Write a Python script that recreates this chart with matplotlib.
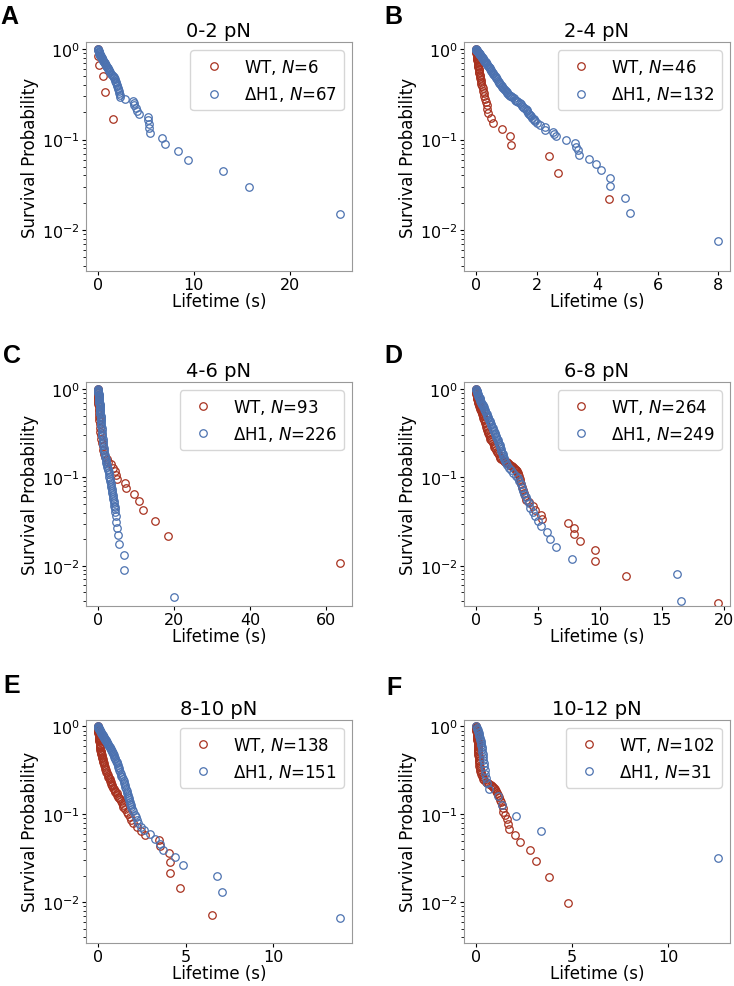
import numpy as np
import matplotlib.pyplot as plt
from matplotlib.ticker import MultipleLocator

# panel text
letters = ["A", "B", "C", "D", "E", "F"]
titles = ["0-2 pN", "2-4 pN", "4-6 pN", "6-8 pN", "8-10 pN", "10-12 pN"]
n_wt = [6, 46, 93, 264, 138, 102]
n_dh1 = [67, 132, 226, 249, 151, 31]
x_step = [10, 2, 20, 5, 5, 5]

# (lifetime s, survival probability)
wt_A = [(0.0, 1.0), (0.0, 0.833), (0.1, 0.667), (0.55, 0.5), (0.78, 0.333), (1.55, 0.167)]
dh1_A = [(0.0, 1.0), (0.02, 0.985), (0.04, 0.97), (0.06, 0.955), (0.08, 0.94), (0.1, 0.925),
         (0.12, 0.91), (0.15, 0.895), (0.18, 0.88), (0.21, 0.866), (0.25, 0.85), (0.29, 0.836),
         (0.33, 0.82), (0.37, 0.806), (0.41, 0.79), (0.45, 0.776), (0.5, 0.76), (0.55, 0.746),
         (0.6, 0.73), (0.65, 0.716), (0.7, 0.70), (0.75, 0.687), (0.8, 0.672), (0.85, 0.657),
         (0.9, 0.642), (0.95, 0.627), (1.0, 0.612), (1.05, 0.597), (1.1, 0.582), (1.2, 0.567),
         (1.3, 0.552), (1.38, 0.537), (1.45, 0.522), (1.55, 0.507), (1.62, 0.493), (1.68, 0.478),
         (1.75, 0.463), (1.82, 0.448), (1.88, 0.433), (1.93, 0.418), (1.98, 0.403), (2.02, 0.388),
         (2.07, 0.373), (2.1, 0.358), (2.14, 0.343), (2.18, 0.328), (2.25, 0.313), (2.34, 0.299),
         (2.86, 0.284), (3.66, 0.269), (3.72, 0.254), (3.8, 0.239), (3.96, 0.224), (4.07, 0.209),
         (4.3, 0.194), (5.2, 0.179), (5.25, 0.164), (5.3, 0.149), (5.35, 0.134), (5.45, 0.119),
         (6.69, 0.104), (7.03, 0.0896), (8.38, 0.0746), (9.37, 0.0597), (13.0, 0.0448),
         (15.7, 0.0299), (25.2, 0.0149)]

wt_B = [(0.0, 1.0), (0.0, 0.978), (0.005, 0.957), (0.01, 0.935), (0.015, 0.913), (0.02, 0.891),
        (0.025, 0.870), (0.03, 0.848), (0.035, 0.826), (0.04, 0.804), (0.045, 0.783), (0.05, 0.761),
        (0.055, 0.739), (0.06, 0.717), (0.065, 0.696), (0.07, 0.674), (0.075, 0.652), (0.08, 0.630),
        (0.085, 0.609), (0.09, 0.587), (0.1, 0.565), (0.11, 0.543), (0.12, 0.522), (0.13, 0.5),
        (0.14, 0.478), (0.15, 0.457), (0.16, 0.435), (0.18, 0.413), (0.2, 0.391), (0.22, 0.370),
        (0.24, 0.348), (0.26, 0.326), (0.28, 0.304), (0.3, 0.283), (0.32, 0.261), (0.35, 0.239),
        (0.37, 0.217), (0.4, 0.196), (0.48, 0.174), (0.56, 0.152), (0.86, 0.130), (1.13, 0.109),
        (1.155, 0.087), (2.4, 0.065), (2.7, 0.043), (4.38, 0.0217)]
dh1_B = [(0.0, 1.0), (0.005, 0.992), (0.01, 0.985), (0.015, 0.977), (0.02, 0.97), (0.03, 0.962),
         (0.04, 0.955), (0.05, 0.947), (0.06, 0.94), (0.07, 0.93), (0.08, 0.92), (0.09, 0.91),
         (0.10, 0.90), (0.115, 0.887), (0.13, 0.875), (0.145, 0.862), (0.16, 0.85), (0.175, 0.835),
         (0.19, 0.82), (0.205, 0.805), (0.22, 0.79), (0.24, 0.775), (0.26, 0.76), (0.28, 0.745),
         (0.30, 0.73), (0.32, 0.715), (0.34, 0.70), (0.36, 0.685), (0.38, 0.67), (0.40, 0.655),
         (0.42, 0.64), (0.44, 0.627), (0.46, 0.615), (0.475, 0.602), (0.49, 0.59), (0.51, 0.575),
         (0.53, 0.56), (0.55, 0.545), (0.57, 0.53), (0.595, 0.515), (0.62, 0.50), (0.645, 0.487),
         (0.67, 0.475), (0.695, 0.462), (0.72, 0.45), (0.745, 0.437), (0.77, 0.425), (0.795, 0.412),
         (0.82, 0.40), (0.845, 0.39), (0.87, 0.38), (0.895, 0.37), (0.92, 0.36), (0.95, 0.352),
         (0.98, 0.345), (1.01, 0.337), (1.04, 0.33), (1.07, 0.322), (1.10, 0.315), (1.13, 0.307),
         (1.16, 0.30), (1.2, 0.292), (1.24, 0.285), (1.28, 0.277), (1.32, 0.27), (1.36, 0.265),
         (1.40, 0.26), (1.44, 0.252), (1.48, 0.245), (1.52, 0.237), (1.56, 0.23), (1.6, 0.225),
         (1.64, 0.22), (1.67, 0.212), (1.70, 0.205), (1.73, 0.197), (1.76, 0.19), (1.79, 0.185),
         (1.82, 0.18), (1.86, 0.175), (1.90, 0.17), (1.93, 0.165), (1.96, 0.16), (2.03, 0.152),
         (2.10, 0.144), (2.27, 0.136), (2.28, 0.127), (2.54, 0.122), (2.56, 0.114), (2.64, 0.108),
         (2.96, 0.0985), (3.28, 0.091), (3.31, 0.083), (3.36, 0.0758), (3.41, 0.068), (3.73, 0.0606),
         (3.95, 0.053), (4.14, 0.0455), (4.43, 0.0379), (4.43, 0.0303), (4.91, 0.0227),
         (5.09, 0.0152), (7.98, 0.0076)]

wt_C = [(0.0, 1.0), (0.0, 0.97), (0.02, 0.935), (0.03, 0.90), (0.04, 0.86), (0.05, 0.82),
        (0.06, 0.785), (0.08, 0.75), (0.1, 0.71), (0.12, 0.67), (0.15, 0.635), (0.18, 0.60),
        (0.21, 0.56), (0.25, 0.52), (0.3, 0.48), (0.35, 0.44), (0.42, 0.40), (0.5, 0.365),
        (0.6, 0.33), (0.7, 0.30), (0.85, 0.27), (1.0, 0.247), (1.2, 0.226), (1.4, 0.204),
        (1.6, 0.183), (1.9, 0.172), (2.3, 0.161), (2.7, 0.150), (3.3, 0.140), (4.0, 0.129),
        (4.42, 0.118), (4.86, 0.1075), (5.1, 0.0968), (7.0, 0.086), (7.45, 0.0753), (9.35, 0.0645),
        (10.75, 0.0538), (11.95, 0.043), (15.0, 0.0323), (18.3, 0.0215), (63.5, 0.0108)]
dh1_C = [(0.0, 1.0), (0.02, 0.98), (0.05, 0.96), (0.07, 0.94), (0.1, 0.92), (0.12, 0.90),
         (0.15, 0.88), (0.17, 0.86), (0.2, 0.84), (0.22, 0.82), (0.25, 0.80), (0.27, 0.78),
         (0.3, 0.76), (0.32, 0.74), (0.35, 0.72), (0.38, 0.70), (0.42, 0.68), (0.46, 0.66),
         (0.5, 0.64), (0.52, 0.62), (0.55, 0.60), (0.57, 0.58), (0.6, 0.56), (0.62, 0.54),
         (0.65, 0.52), (0.68, 0.50), (0.72, 0.48), (0.76, 0.46), (0.8, 0.44), (0.84, 0.42),
         (0.88, 0.40), (0.91, 0.38), (0.95, 0.36), (1.0, 0.34), (1.05, 0.32), (1.1, 0.305),
         (1.15, 0.29), (1.2, 0.275), (1.25, 0.26), (1.32, 0.245), (1.4, 0.23), (1.47, 0.217),
         (1.55, 0.205), (1.65, 0.192), (1.75, 0.18), (1.87, 0.17), (2.0, 0.16), (2.1, 0.152),
         (2.2, 0.145), (2.32, 0.137), (2.45, 0.13), (2.57, 0.125), (2.7, 0.12), (2.8, 0.114),
         (2.9, 0.108), (3.0, 0.102), (3.1, 0.097), (3.2, 0.092), (3.3, 0.087), (3.4, 0.082),
         (3.5, 0.078), (3.6, 0.074), (3.7, 0.07), (3.78, 0.066), (3.85, 0.063), (3.92, 0.06),
         (4.0, 0.057), (4.1, 0.054), (4.2, 0.051), (4.3, 0.048), (4.4, 0.046), (4.5, 0.0435),
         (4.6, 0.041), (4.7, 0.0367), (4.78, 0.031), (5.04, 0.0265), (5.2, 0.0221),
         (5.45, 0.0177), (6.75, 0.0133), (6.94, 0.00885), (20.0, 0.00442)]

wt_D = [(0.0, 1.0), (0.0, 0.98), (0.01, 0.96), (0.015, 0.94), (0.02, 0.92), (0.03, 0.90),
        (0.04, 0.88), (0.05, 0.86), (0.06, 0.84), (0.07, 0.82), (0.08, 0.80), (0.095, 0.785),
        (0.11, 0.77), (0.13, 0.75), (0.15, 0.73), (0.175, 0.71), (0.2, 0.69), (0.225, 0.67),
        (0.25, 0.65), (0.275, 0.635), (0.3, 0.62), (0.325, 0.607), (0.35, 0.595), (0.385, 0.577),
        (0.42, 0.56), (0.46, 0.54), (0.5, 0.52), (0.53, 0.505), (0.56, 0.49), (0.59, 0.475),
        (0.62, 0.46), (0.66, 0.443), (0.7, 0.425), (0.74, 0.407), (0.78, 0.39), (0.83, 0.373),
        (0.88, 0.356), (0.92, 0.343), (0.97, 0.33), (1.01, 0.315), (1.06, 0.30), (1.11, 0.287),
        (1.16, 0.275), (1.22, 0.265), (1.28, 0.255), (1.35, 0.243), (1.42, 0.232), (1.48, 0.222),
        (1.55, 0.212), (1.62, 0.203), (1.7, 0.195), (1.76, 0.187), (1.83, 0.18), (1.9, 0.172),
        (1.97, 0.165), (2.06, 0.161), (2.15, 0.158), (2.26, 0.154), (2.37, 0.151), (2.47, 0.148),
        (2.57, 0.145), (2.68, 0.142), (2.78, 0.139), (2.85, 0.136), (2.92, 0.133), (2.98, 0.13),
        (3.05, 0.127), (3.12, 0.125), (3.2, 0.122), (3.26, 0.12), (3.31, 0.117), (3.36, 0.113),
        (3.4, 0.11), (3.45, 0.104), (3.52, 0.097), (3.59, 0.09), (3.65, 0.084), (3.72, 0.078),
        (3.79, 0.072), (3.86, 0.066), (3.93, 0.061), (4.0, 0.056), (4.27, 0.052), (4.6, 0.047),
        (4.79, 0.0432), (5.25, 0.0379), (5.33, 0.0341), (7.4, 0.0303), (7.95, 0.0265),
        (7.95, 0.0227), (8.38, 0.0189), (9.57, 0.0152), (9.6, 0.0114), (12.1, 0.0076),
        (19.52, 0.0038)]
dh1_D = [(0.0, 1.0), (0.02, 0.98), (0.05, 0.96), (0.07, 0.94), (0.1, 0.92), (0.12, 0.90),
         (0.15, 0.88), (0.17, 0.86), (0.2, 0.84), (0.23, 0.82), (0.27, 0.80), (0.3, 0.78),
         (0.33, 0.76), (0.36, 0.74), (0.4, 0.72), (0.43, 0.70), (0.47, 0.68), (0.51, 0.665),
         (0.55, 0.65), (0.58, 0.635), (0.62, 0.62), (0.66, 0.60), (0.7, 0.58), (0.75, 0.56),
         (0.8, 0.54), (0.85, 0.52), (0.9, 0.50), (0.95, 0.482), (1.0, 0.465), (1.05, 0.45),
         (1.1, 0.435), (1.15, 0.42), (1.2, 0.405), (1.25, 0.39), (1.3, 0.375), (1.35, 0.36),
         (1.4, 0.345), (1.45, 0.332), (1.5, 0.32), (1.55, 0.307), (1.6, 0.295), (1.65, 0.285),
         (1.7, 0.275), (1.75, 0.262), (1.8, 0.25), (1.85, 0.24), (1.9, 0.23), (1.95, 0.22),
         (2.0, 0.21), (2.05, 0.2), (2.1, 0.19), (2.15, 0.182), (2.2, 0.175), (2.25, 0.167),
         (2.3, 0.16), (2.35, 0.152), (2.4, 0.145), (2.5, 0.137), (2.64, 0.129), (2.8, 0.121),
         (3.0, 0.112), (3.2, 0.104), (3.4, 0.098), (3.5, 0.09), (3.6, 0.083), (3.72, 0.076),
         (3.8, 0.07), (3.9, 0.064), (4.0, 0.06), (4.13, 0.055), (4.25, 0.051), (4.38, 0.0452),
         (4.58, 0.0402), (4.79, 0.0361), (5.0, 0.0321), (5.25, 0.0281), (5.74, 0.0241),
         (5.95, 0.0201), (6.49, 0.0161), (7.78, 0.012), (16.2, 0.008), (16.57, 0.004)]

wt_E = [(0.0, 1.0), (0.0, 0.98), (0.0, 0.96), (0.005, 0.94), (0.01, 0.92), (0.015, 0.90),
        (0.02, 0.88), (0.025, 0.86), (0.03, 0.84), (0.035, 0.82), (0.04, 0.80), (0.045, 0.78),
        (0.05, 0.76), (0.06, 0.74), (0.07, 0.72), (0.075, 0.70), (0.08, 0.68), (0.09, 0.66),
        (0.1, 0.64), (0.105, 0.62), (0.11, 0.60), (0.12, 0.582), (0.13, 0.565), (0.14, 0.547),
        (0.15, 0.53), (0.165, 0.515), (0.18, 0.50), (0.195, 0.485), (0.21, 0.47), (0.23, 0.455),
        (0.25, 0.44), (0.27, 0.425), (0.29, 0.41), (0.315, 0.395), (0.34, 0.38), (0.37, 0.362),
        (0.4, 0.345), (0.425, 0.332), (0.45, 0.32), (0.485, 0.307), (0.52, 0.295), (0.555, 0.282),
        (0.59, 0.27), (0.625, 0.26), (0.66, 0.25), (0.69, 0.241), (0.72, 0.232), (0.75, 0.224),
        (0.78, 0.216), (0.82, 0.208), (0.86, 0.2), (0.9, 0.193), (0.95, 0.187), (1.0, 0.18),
        (1.06, 0.174), (1.1, 0.167), (1.15, 0.16), (1.2, 0.154), (1.25, 0.148), (1.3, 0.141),
        (1.35, 0.135), (1.4, 0.129), (1.44, 0.123), (1.53, 0.115), (1.63, 0.108), (1.72, 0.101),
        (1.82, 0.0942), (1.9, 0.087), (2.0, 0.08), (2.2, 0.0725), (2.48, 0.0652), (2.67, 0.058),
        (3.5, 0.0507), (3.55, 0.0435), (4.05, 0.0362), (4.13, 0.029), (4.13, 0.0217),
        (4.7, 0.0145), (6.5, 0.0072)]
dh1_E = [(0.0, 1.0), (0.015, 0.985), (0.03, 0.97), (0.045, 0.955), (0.06, 0.94), (0.08, 0.925),
         (0.1, 0.91), (0.12, 0.895), (0.14, 0.88), (0.16, 0.865), (0.18, 0.85), (0.2, 0.835),
         (0.22, 0.82), (0.245, 0.805), (0.27, 0.79), (0.295, 0.775), (0.32, 0.76), (0.345, 0.747),
         (0.37, 0.735), (0.395, 0.722), (0.42, 0.71), (0.45, 0.695), (0.48, 0.68), (0.51, 0.665),
         (0.54, 0.65), (0.57, 0.635), (0.6, 0.62), (0.63, 0.605), (0.66, 0.59), (0.69, 0.575),
         (0.72, 0.56), (0.75, 0.545), (0.78, 0.53), (0.81, 0.515), (0.84, 0.50), (0.87, 0.485),
         (0.9, 0.47), (0.935, 0.455), (0.97, 0.44), (1.0, 0.425), (1.03, 0.41), (1.06, 0.395),
         (1.09, 0.38), (1.12, 0.365), (1.15, 0.35), (1.185, 0.335), (1.22, 0.32), (1.26, 0.305),
         (1.3, 0.29), (1.34, 0.277), (1.38, 0.265), (1.42, 0.252), (1.46, 0.24), (1.5, 0.228),
         (1.53, 0.216), (1.565, 0.205), (1.6, 0.195), (1.635, 0.185), (1.67, 0.175), (1.7, 0.167),
         (1.73, 0.16), (1.755, 0.152), (1.78, 0.145), (1.8, 0.139), (1.82, 0.133), (1.86, 0.127),
         (1.9, 0.121), (1.95, 0.115), (2.0, 0.109), (2.1, 0.099), (2.15, 0.0927), (2.2, 0.086),
         (2.27, 0.0795), (2.45, 0.0728), (2.61, 0.0662), (2.95, 0.0596), (3.28, 0.053),
         (3.56, 0.0464), (3.72, 0.0397), (4.38, 0.0331), (4.85, 0.0265), (6.78, 0.0199),
         (7.07, 0.0132), (13.8, 0.0066)]

wt_F = [(0.0, 1.0), (0.0, 0.98), (0.01, 0.96), (0.015, 0.94), (0.02, 0.92), (0.025, 0.90),
        (0.03, 0.88), (0.035, 0.86), (0.04, 0.84), (0.045, 0.82), (0.05, 0.80), (0.055, 0.78),
        (0.06, 0.76), (0.065, 0.74), (0.07, 0.72), (0.075, 0.70), (0.08, 0.68), (0.085, 0.66),
        (0.09, 0.64), (0.095, 0.62), (0.1, 0.60), (0.105, 0.58), (0.11, 0.56), (0.115, 0.54),
        (0.12, 0.52), (0.125, 0.50), (0.13, 0.48), (0.135, 0.46), (0.14, 0.44), (0.145, 0.42),
        (0.15, 0.40), (0.16, 0.38), (0.17, 0.36), (0.185, 0.345), (0.2, 0.33), (0.22, 0.315),
        (0.24, 0.30), (0.27, 0.287), (0.3, 0.275), (0.34, 0.265), (0.38, 0.255), (0.44, 0.245),
        (0.5, 0.235), (0.56, 0.23), (0.62, 0.225), (0.69, 0.22), (0.76, 0.216), (0.82, 0.211),
        (0.88, 0.206), (0.92, 0.201), (0.97, 0.196), (1.02, 0.186), (1.08, 0.176), (1.13, 0.167),
        (1.19, 0.157), (1.24, 0.147), (1.3, 0.137), (1.35, 0.127), (1.39, 0.118), (1.43, 0.108),
        (1.52, 0.098), (1.6, 0.0882), (1.69, 0.0784), (1.73, 0.0686), (2.04, 0.0588),
        (2.3, 0.049), (2.82, 0.0392), (3.11, 0.0294), (3.8, 0.0196), (4.77, 0.0098)]
dh1_F = [(0.0, 1.0), (0.03, 0.968), (0.06, 0.935), (0.09, 0.903), (0.12, 0.871), (0.14, 0.839),
         (0.16, 0.806), (0.18, 0.774), (0.2, 0.742), (0.22, 0.71), (0.24, 0.677), (0.26, 0.645),
         (0.28, 0.613), (0.3, 0.581), (0.31, 0.548), (0.33, 0.516), (0.35, 0.484), (0.37, 0.452),
         (0.39, 0.419), (0.42, 0.387), (0.44, 0.355), (0.46, 0.323), (0.49, 0.29), (0.52, 0.258),
         (0.56, 0.226), (0.66, 0.194), (1.15, 0.161), (1.35, 0.129), (2.1, 0.097),
         (3.39, 0.0645), (12.58, 0.0323)]

wt_series = [wt_A, wt_B, wt_C, wt_D, wt_E, wt_F]
dh1_series = [dh1_A, dh1_B, dh1_C, dh1_D, dh1_E, dh1_F]

RED = "#a8321f"
BLUE = "#4c72b0"

fig = plt.figure(figsize=(7.34, 9.87), dpi=100)

col_left = [0.117, 0.632]
row_bottom = [0.7244, 0.385, 0.044]
row_height = [0.232, 0.227, 0.226]
ax_width = 0.3624
# letter positions (figure fraction, top-left)
letter_xy = [(0.0, 0.995), (0.524, 0.995), (0.004, 0.651), (0.524, 0.651),
             (0.004, 0.317), (0.527, 0.315)]

for i in range(6):
    row, col = divmod(i, 2)
    ax = fig.add_axes([col_left[col], row_bottom[row], ax_width, row_height[row]])

    t, s = np.array(wt_series[i]).T
    ax.plot(t, s, "o", mfc="none", mec=RED, ms=5.4, mew=0.9,
            label="WT, $N$=%d" % n_wt[i])
    t, s = np.array(dh1_series[i]).T
    ax.plot(t, s, "o", mfc="none", mec=BLUE, ms=5.4, mew=0.9,
            label="ΔH1, $N$=%d" % n_dh1[i])

    ax.set_yscale("log")
    ax.set_ylim(3.5e-3, 1.2)
    ax.xaxis.set_major_locator(MultipleLocator(x_step[i]))
    ax.set_title(titles[i], fontsize=14, pad=4)
    ax.set_xlabel("Lifetime (s)", fontsize=12, labelpad=0)
    ax.set_ylabel("Survival Probability", fontsize=12, labelpad=2)
    ax.tick_params(which="major", labelsize=11.5, length=3, pad=1.5)
    ax.tick_params(which="minor", length=2)
    for sp in ax.spines.values():
        sp.set_color("0.6")
    ax.legend(loc="upper right", fontsize=12)

    fig.text(letter_xy[i][0], letter_xy[i][1], letters[i], fontsize=18,
             fontweight="bold", family="Liberation Sans", va="top", ha="left")

fig.savefig("out.png", dpi=100)
